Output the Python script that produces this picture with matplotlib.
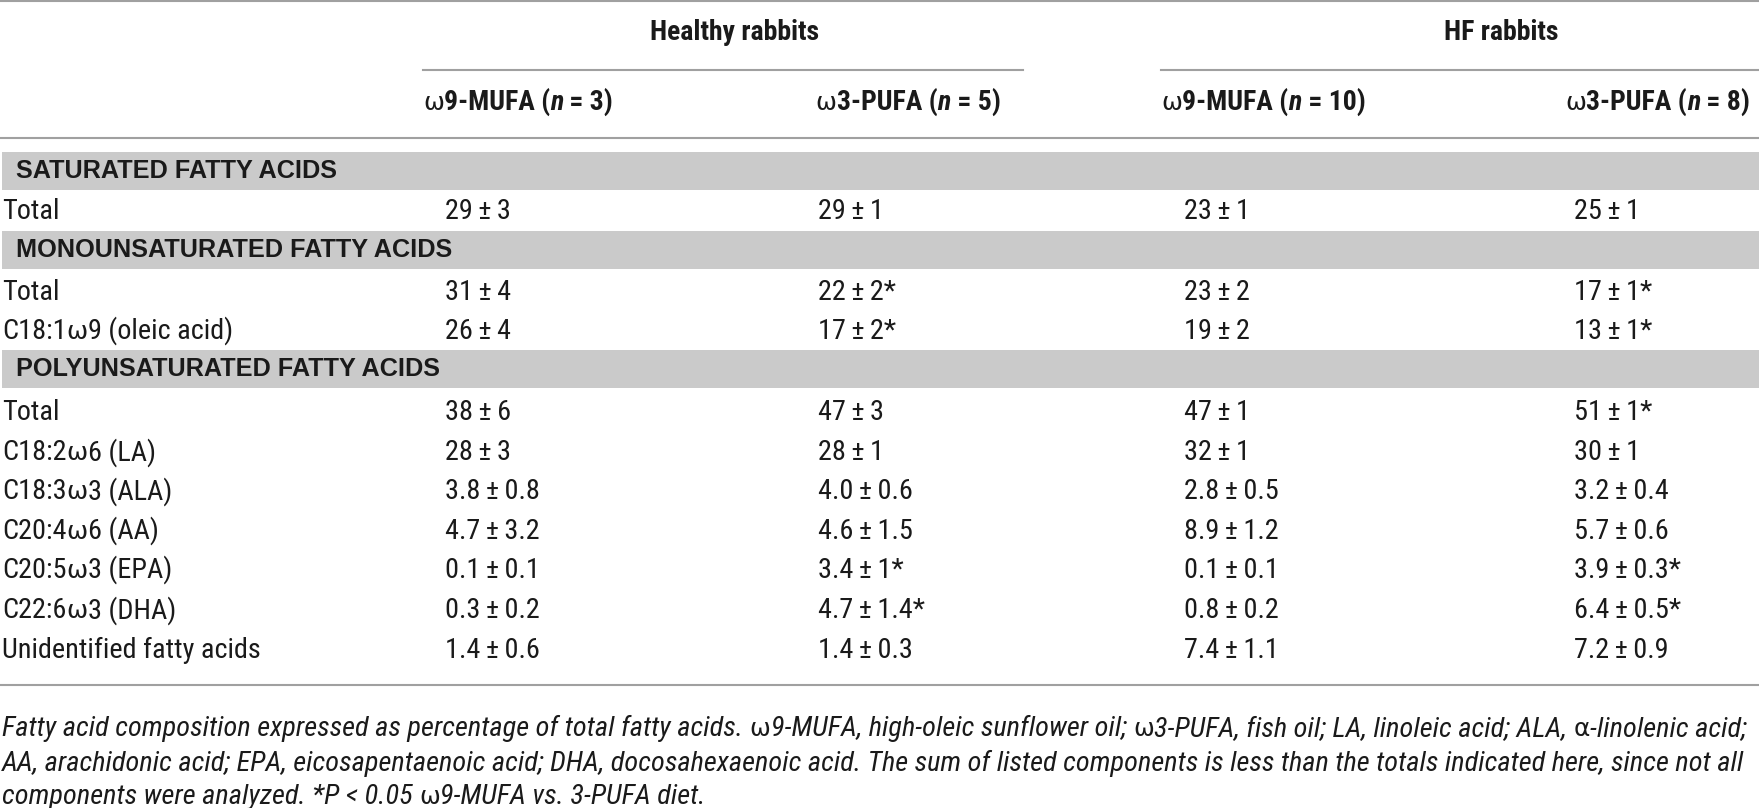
#!/usr/bin/env python3
# Fatty acid composition table, redrawn with matplotlib

import os
import re
import matplotlib
matplotlib.use('Agg')
import matplotlib.pyplot as plt
from matplotlib import font_manager as fm

# ---- data ----
group_names = ['Healthy rabbits', 'HF rabbits']
diet_names = ['ω9-MUFA', 'ω3-PUFA', 'ω9-MUFA', 'ω3-PUFA']
diet_n = ['3', '5', '10', '8']

sections = ['SATURATED FATTY ACIDS',
            'MONOUNSATURATED FATTY ACIDS',
            'POLYUNSATURATED FATTY ACIDS']

sat_labels = ['Total']
sat_values = [['29 ± 3', '29 ± 1', '23 ± 1', '25 ± 1']]

mono_labels = ['Total', 'C18:1ω9 (oleic acid)']
mono_values = [['31 ± 4', '22 ± 2*', '23 ± 2', '17 ± 1*'],
               ['26 ± 4', '17 ± 2*', '19 ± 2', '13 ± 1*']]

poly_labels = ['Total', 'C18:2ω6 (LA)', 'C18:3ω3 (ALA)', 'C20:4ω6 (AA)',
               'C20:5ω3 (EPA)', 'C22:6ω3 (DHA)', 'Unidentified fatty acids']
poly_values = [['38 ± 6', '47 ± 3', '47 ± 1', '51 ± 1*'],
               ['28 ± 3', '28 ± 1', '32 ± 1', '30 ± 1'],
               ['3.8 ± 0.8', '4.0 ± 0.6', '2.8 ± 0.5', '3.2 ± 0.4'],
               ['4.7 ± 3.2', '4.6 ± 1.5', '8.9 ± 1.2', '5.7 ± 0.6'],
               ['0.1 ± 0.1', '3.4 ± 1*', '0.1 ± 0.1', '3.9 ± 0.3*'],
               ['0.3 ± 0.2', '4.7 ± 1.4*', '0.8 ± 0.2', '6.4 ± 0.5*'],
               ['1.4 ± 0.6', '1.4 ± 0.3', '7.4 ± 1.1', '7.2 ± 0.9']]

footnote = ['Fatty acid composition expressed as percentage of total fatty acids. ω9-MUFA, high-oleic sunflower oil; ω3-PUFA, fish oil; LA, linoleic acid; ALA, α-linolenic acid;',
            'AA, arachidonic acid; EPA, eicosapentaenoic acid; DHA, docosahexaenoic acid. The sum of listed components is less than the totals indicated here, since not all',
            'components were analyzed. *P < 0.05 ω9-MUFA vs. 3-PUFA diet.']


# ---- fonts: try a condensed face, else Liberation Sans ----
def find_file(names):
    files = {os.path.basename(f.fname).lower(): f.fname for f in fm.fontManager.ttflist}
    for n in names:
        if n in files:
            return files[n]
    return None

cond_reg = find_file(['robotocondensed-regular.ttf', 'robotocondensed-light.ttf',
                      'liberationsansnarrow-regular.ttf', 'dejavusanscondensed.ttf',
                      'opensans_condensed-regular.ttf', 'notosans-condensed.ttf'])
cond_bold = find_file(['robotocondensed-bold.ttf', 'liberationsansnarrow-bold.ttf',
                       'dejavusanscondensed-bold.ttf', 'opensans_condensed-bold.ttf',
                       'notosans-condensedbold.ttf'])
cond_ital = find_file(['robotocondensed-italic.ttf', 'robotocondensed-lightitalic.ttf',
                       'liberationsansnarrow-italic.ttf', 'dejavusanscondensed-oblique.ttf',
                       'opensans_condensed-italic.ttf', 'notosans-condenseditalic.ttf'])
cond_bi = find_file(['robotocondensed-bolditalic.ttf', 'liberationsansnarrow-bolditalic.ttf',
                     'dejavusanscondensed-boldoblique.ttf', 'notosans-condensedbolditalic.ttf'])


def fp(path, size, weight='normal', style='normal'):
    if path:
        return fm.FontProperties(fname=path, size=size)
    return fm.FontProperties(family=['Liberation Sans', 'DejaVu Sans'],
                             size=size * 0.93, weight=weight, style=style)

body_fs = 20.3
head_fs = 20
foot_fs = 20.4

f_body = fp(cond_reg, body_fs)
f_head = fp(cond_bold, head_fs, weight='bold')
f_head_n = fp(cond_bi, head_fs, weight='bold', style='italic')
f_foot = fp(cond_ital, foot_fs, style='italic')
f_sect = fm.FontProperties(family=['Liberation Sans', 'DejaVu Sans'],
                           size=18.2, weight='bold')
# greek letters are set upright in a wider symbol-like face
g_body = fm.FontProperties(family='DejaVu Sans', size=body_fs * 0.9)
g_head = fm.FontProperties(family='DejaVu Sans', size=head_fs * 0.9)
g_foot = fm.FontProperties(family='DejaVu Sans', size=foot_fs * 0.88)

# ---- layout (units: 1568 x 720 grid) ----
W, H = 1568, 720
gray_bar = '#cacaca'
rule = '#a0a0a0'
ink = '#1a1a1a'

fig = plt.figure(figsize=(17.59, 8.08), dpi=100)
ax = fig.add_axes([0, 0, 1, 1])
ax.set_xlim(0, W)
ax.set_ylim(H, 0)
ax.axis('off')
renderer = fig.canvas.get_renderer()
px2u = W / fig.bbox.width


def text_w(s, prop):
    w, _, _ = renderer.get_text_width_height_descent(s, prop, ismath=False)
    return w * px2u


def draw_parts(x, y, parts):
    # draw text pieces one after another, measuring each
    for txt, prop in parts:
        body = txt.rstrip(' ')
        n_trail = len(txt) - len(body)
        if body:
            t = ax.text(x, y, body, va='baseline', ha='left',
                        fontproperties=prop, color=ink)
            x += t.get_window_extent(renderer=renderer).width * px2u
        if n_trail:
            x += n_trail * (text_w('a a', prop) - text_w('aa', prop))
    return x


def rich(x, y, text, prop, gprop):
    # split on greek letters so they get their own face
    parts = []
    for piece in re.split('([ωα])', text):
        if piece:
            parts.append((piece, gprop if piece in 'ωα' else prop))
    return draw_parts(x, y, parts)


# rules
ax.plot([0, W], [1, 1], color=rule, lw=1.5)
ax.plot([377, 912], [62, 62], color=rule, lw=1.5)
ax.plot([1035, W], [62, 62], color=rule, lw=1.5)
ax.plot([0, W], [123, 123], color=rule, lw=1.5)
ax.plot([0, W], [610, 610], color=rule, lw=1.5)

# group headers
group_x = [655, 1338]
for gx, g in zip(group_x, group_names):
    ax.text(gx, 29, g, ha='center', va='center', fontproperties=f_head,
            color=ink)

# diet headers
head_x = [377, 727, 1035, 1395]
for hx, d, n in zip(head_x, diet_names, diet_n):
    draw_parts(hx, 98, [(d[0], g_head), (d[1:] + ' (', f_head), ('n', f_head_n),
                        (' = ' + n + ')', f_head)])

# body
val_x = [397, 729, 1055, 1403]
bar_y = [152, 223, 329]
row_y = [[195], [267, 302], [374, 410, 445, 480, 515, 551, 586]]
all_labels = [sat_labels, mono_labels, poly_labels]
all_values = [sat_values, mono_values, poly_values]

for s, by, ys, labs, vals in zip(sections, bar_y, row_y, all_labels, all_values):
    ax.add_patch(plt.Rectangle((2, by - 17), W - 2, 34, color=gray_bar, lw=0))
    ax.text(14, by, s, ha='left', va='center', fontproperties=f_sect,
            color=ink)
    for y, lab, row in zip(ys, labs, vals):
        rich(2, y, lab, f_body, g_body)
        for vx, v in zip(val_x, row):
            ax.text(vx, y, v.replace(' ', '\u2009'), ha='left', va='baseline',
                    fontproperties=f_body, color=ink)

# footnote
foot_y = [656, 687, 716]
for y, line in zip(foot_y, footnote):
    rich(2, y, line, f_foot, g_foot)

fig.savefig('out.png', dpi=100)
